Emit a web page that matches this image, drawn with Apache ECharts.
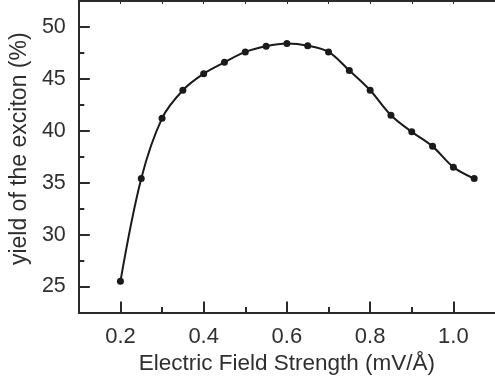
<!DOCTYPE html>
<html><head><meta charset="utf-8">
<script src="https://cdn.jsdelivr.net/npm/echarts@6/dist/echarts.min.js"></script>
<style>html,body{margin:0;padding:0;background:#fff}#c{width:495px;height:382px}</style>
</head><body><div id="c"></div>
<script>
const fieldStrength = [0.2,0.25,0.3,0.35,0.4,0.45,0.5,0.55,0.6,0.65,0.7,0.75,0.8,0.85,0.9,0.95,1.0,1.05];
const excitonYield = [25.5,35.4,41.2,43.9,45.5,46.6,47.6,48.15,48.4,48.2,47.6,45.8,43.9,41.5,39.9,38.5,36.5,35.4];
const xMajorTicks = [0.2,0.4,0.6,0.8,1.0];
const xMinorTicks = [0.3,0.5,0.7,0.9];
const xTopTicks = [0.2,0.3,0.4,0.5,0.6,0.7,0.8,0.9,1.0];
const yMajorTicks = [25,30,35,40,45,50];
const yMinorTicks = [27.5,32.5,37.5,42.5,47.5];

const font = 'Liberation Sans, Arial, sans-serif';
const axisColor = '#2a2a2a';
const textColor = '#2f2f2f';
const chart = echarts.init(document.getElementById('c'));
const baseX = {type:'value', min:0.1, max:1.1, splitLine:{show:false}};
const baseY = {type:'value', min:22.5, max:52.5, splitLine:{show:false}};
chart.setOption({
  animation:false,
  grid:{left:78, top:1, right:-3, bottom:69.5},
  xAxis:[
    Object.assign({}, baseX, {
      position:'bottom',
      name:'Electric Field Strength (mV/Å)', nameLocation:'middle', nameGap:40,
      nameTextStyle:{fontFamily:font, fontSize:22.5, color:textColor},
      axisLine:{lineStyle:{color:axisColor, width:2}},
      axisTick:{inside:true, length:11, customValues:xMajorTicks, lineStyle:{color:axisColor, width:2}},
      axisLabel:{customValues:xMajorTicks, margin:13, fontFamily:font, fontSize:22, color:textColor,
        formatter:v=>v.toFixed(1)}
    }),
    Object.assign({}, baseX, {
      position:'bottom', axisLine:{show:false},
      axisTick:{inside:true, length:5.5, customValues:xMinorTicks, lineStyle:{color:axisColor, width:2}},
      axisLabel:{show:false}
    }),
    Object.assign({}, baseX, {
      position:'top',
      axisLine:{lineStyle:{color:axisColor, width:2}},
      axisTick:{inside:true, length:3, customValues:xTopTicks, lineStyle:{color:axisColor, width:1}},
      axisLabel:{show:false}
    })
  ],
  yAxis:[
    Object.assign({}, baseY, {
      position:'left',
      name:'yield of the exciton (%)', nameLocation:'middle', nameGap:44,
      nameTextStyle:{fontFamily:font, fontSize:23, color:textColor, padding:[0,0,0,16]},
      axisLine:{lineStyle:{color:axisColor, width:2}},
      axisTick:{inside:true, length:11, customValues:yMajorTicks, lineStyle:{color:axisColor, width:2}},
      axisLabel:{customValues:yMajorTicks, margin:13, fontFamily:font, fontSize:21.5, color:textColor}
    }),
    Object.assign({}, baseY, {
      position:'left', axisLine:{show:false},
      axisTick:{inside:true, length:5.5, customValues:yMinorTicks, lineStyle:{color:axisColor, width:2}},
      axisLabel:{show:false}
    })
  ],
  series:[{
    type:'line', xAxisIndex:0, yAxisIndex:0,
    data: fieldStrength.map((x,i)=>[x, excitonYield[i]]),
    smooth:0.35, symbol:'circle', symbolSize:7,
    lineStyle:{color:'#1a1a1a', width:2},
    itemStyle:{color:'#1a1a1a'}
  }]
});
</script></body></html>
